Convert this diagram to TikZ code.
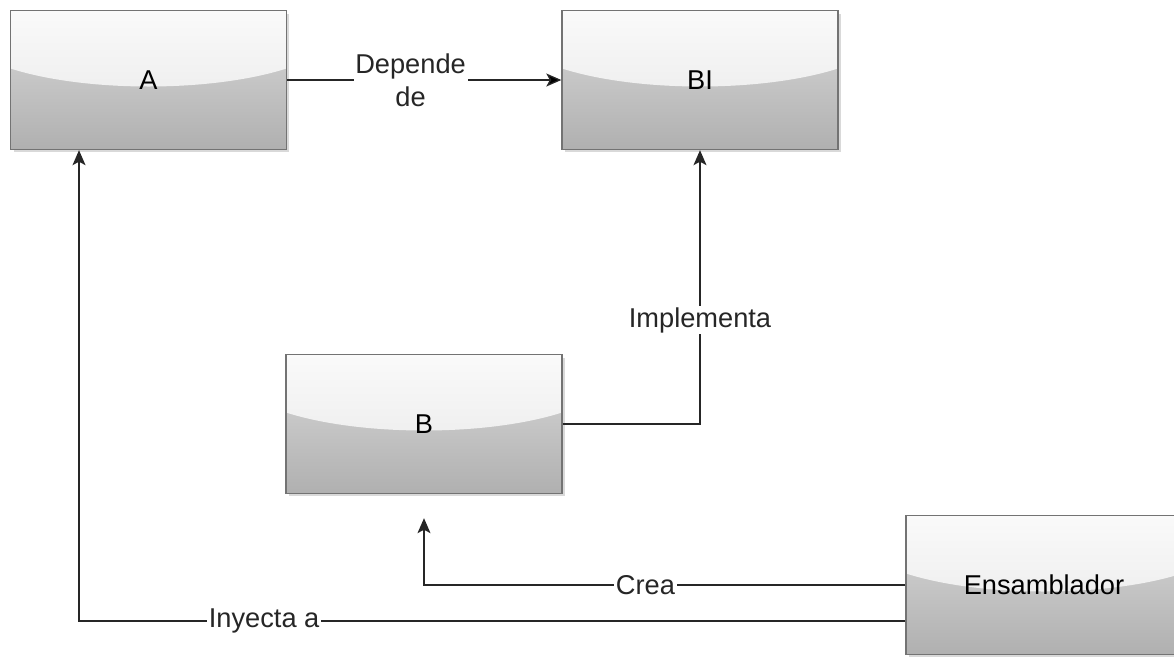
\documentclass[tikz,border=0pt]{standalone}
\usepackage{fontspec}
\setmainfont{Liberation Sans}
\usepackage{tikz}
\usetikzlibrary{arrows.meta,shadows}
\definecolor{boxtop}{rgb}{0.98,0.98,0.98}
\definecolor{boxhigh}{rgb}{0.905,0.905,0.905}
\definecolor{boxmid}{rgb}{0.855,0.855,0.855}
\definecolor{boxlow}{rgb}{0.69,0.69,0.69}
\definecolor{boxline}{rgb}{0.45,0.45,0.45}
\definecolor{linkcolor}{rgb}{0.15,0.15,0.15}

\begin{document}
\begin{tikzpicture}[x=0.02cm,y=-0.02cm,->,>={Stealth[length=0.3cm,width=0.26cm,inset=0.07cm]},
                    line width=0.75pt,font=\fontsize{15.5}{19}\selectfont]
  \tikzstyle{block}=[draw=boxline,line width=0.8pt,top color=boxmid,bottom color=boxlow,
                     minimum width=5.52cm,minimum height=2.78cm,
                     drop shadow={shadow xshift=0.06cm,shadow yshift=-0.06cm,fill=black!25,opacity=0.6},
                     path picture={
                       \shade[top color=boxtop,bottom color=boxhigh]
                         (path picture bounding box.north west)
                         -- (path picture bounding box.north east)
                         -- ([yshift=-1.16cm]path picture bounding box.north east)
                         .. controls ([xshift=-1.5cm,yshift=-1.64cm]path picture bounding box.north east)
                         and ([xshift=1.5cm,yshift=-1.64cm]path picture bounding box.north west)
                         .. ([yshift=-1.16cm]path picture bounding box.north west) -- cycle;}]
  \tikzstyle{lbl}=[fill=white,inner sep=1pt,text=black!85,align=center]
  \tikzstyle{link}=[draw=linkcolor]

  \useasboundingbox (0,0) rectangle (1174,657);

  \node[block] (A)  at (148.5,80) {A};
  \node[block] (BI) at (700,80)   {BI};
  \node[block] (B)  at (424,424)  {B};
  \node[block] (E)  at (1044,585) {Ensamblador};

  \coordinate (Bdown) at ([yshift=-0.48cm]B.south);

  \path[link] (A) edge node[lbl,pos=0.45] {Depende\\de} (BI);
  \draw[link] (B.east) -| node[lbl,pos=0.69] {Implementa} (BI.south);
  \draw[link] (E.west) -| node[lbl,pos=0.27] {Crea} (Bdown);
  \draw[link] ([yshift=-0.72cm]E.west) -| node[lbl,pos=0.388] {Inyecta a} ([xshift=-1.39cm]A.south);

\end{tikzpicture}
\end{document}
